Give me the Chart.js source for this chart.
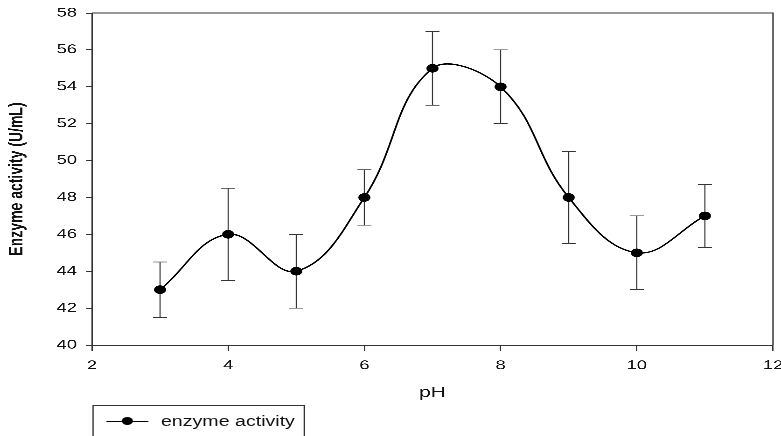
<!DOCTYPE html>
<html>
<head>
<meta charset="utf-8">
<script src="https://cdn.jsdelivr.net/npm/chart.js@4.4.1/dist/chart.umd.min.js"></script>
<style>
    html, body { margin: 0; padding: 0; background: #fff; }
    #page { width: 781px; height: 436px; overflow: hidden; position: relative; }
    /* the reference figure is stretched sideways, so draw narrow and widen */
    #wrap { position: absolute; left: 0; top: 0; width: 558px; height: 436px; transform: scaleX(1.3996); transform-origin: 0 0; }
    #legend {
        position: absolute; left: 66px; top: 405px; width: 152px; height: 40px;
        border: 1px solid #333; box-sizing: border-box;
        font-family: "Liberation Sans", Arial, sans-serif; font-size: 14px; color: #111;
    }
    #legend .line { position: absolute; left: 9px; top: 15px; width: 30px; border-top: 1.3px solid #000; }
    #legend .dot { position: absolute; left: 20px; top: 11px; width: 8.4px; height: 8.4px; border-radius: 50%; background: #000; }
    #legend .txt { position: absolute; left: 48px; top: 7px; }
</style>
</head>
<body>
<div id="page">
<div id="wrap">
    <canvas id="chart"></canvas>
    <div id="legend"><span class="line"></span><span class="dot"></span><span class="txt">enzyme activity</span></div>
</div>
</div>
<script>
// pH values and measured enzyme activity
const phValues = [3, 4, 5, 6, 7, 8, 9, 10, 11];
const activity = [43, 46, 44, 48, 55, 54, 48, 45, 47];
const errors = [1.5, 2.5, 2, 1.5, 2, 2, 2.5, 2, 1.7];

const xTicks = [2, 4, 6, 8, 10, 12];
const yTicks = [40, 42, 44, 46, 48, 50, 52, 54, 56, 58];

const font = '"Liberation Sans", Arial, sans-serif';

// Error bars + frame around the plot area
const errorBarPlugin = {
    id: 'errorBars',
    beforeDatasetsDraw(chart) {
        const { ctx, scales: { x, y }, chartArea } = chart;
        ctx.save();
        ctx.strokeStyle = '#333';
        ctx.lineWidth = 0.8;
        phValues.forEach((ph, i) => {
            const px = x.getPixelForValue(ph);
            const top = y.getPixelForValue(activity[i] + errors[i]);
            const bot = y.getPixelForValue(activity[i] - errors[i]);
            ctx.beginPath();
            ctx.moveTo(px, top);
            ctx.lineTo(px, bot);
            ctx.moveTo(px - 5, top);
            ctx.lineTo(px + 5, top);
            ctx.moveTo(px - 5, bot);
            ctx.lineTo(px + 5, bot);
            ctx.stroke();
        });
        // top and right frame lines
        ctx.lineWidth = 1;
        ctx.beginPath();
        ctx.moveTo(chartArea.left, chartArea.top);
        ctx.lineTo(chartArea.right, chartArea.top);
        ctx.lineTo(chartArea.right, chartArea.bottom);
        ctx.stroke();
        ctx.restore();
    }
};

const canvas = document.getElementById('chart');
canvas.style.width = '558px';
canvas.style.height = '436px';

new Chart(canvas, {
    type: 'scatter',
    data: {
        datasets: [{
            label: 'enzyme activity',
            data: phValues.map((ph, i) => ({ x: ph, y: activity[i] })),
            showLine: true,
            tension: 0.4,
            borderColor: '#000',
            borderWidth: 1.3,
            pointRadius: 4.3,
            pointBackgroundColor: '#000',
            pointBorderColor: '#000',
            pointBorderWidth: 0
        }]
    },
    options: {
        responsive: false,
        animation: false,
        devicePixelRatio: 3,
        layout: { padding: { top: 13, right: 5.7, left: 0, bottom: 0 } },
        plugins: {
            legend: { display: false },
            tooltip: { enabled: false }
        },
        scales: {
            x: {
                type: 'linear',
                min: 2,
                max: 12,
                afterBuildTicks: (axis) => { axis.ticks = xTicks.map(v => ({ value: v })); },
                afterFit: (axis) => { axis.height = 91; axis.paddingLeft = 0; axis.paddingRight = 0; },
                grid: { drawOnChartArea: false, drawTicks: true, tickLength: 6, color: '#333' },
                border: { display: true, color: '#333', width: 1 },
                ticks: { padding: 7, color: '#111', font: { family: font, size: 13 }, maxRotation: 0 },
                title: {
                    display: true, text: 'pH', color: '#111',
                    font: { family: font, size: 15 },
                    padding: { top: 0, bottom: 34 }
                }
            },
            y: {
                type: 'linear',
                min: 40,
                max: 58,
                afterBuildTicks: (axis) => { axis.ticks = yTicks.map(v => ({ value: v })); },
                afterFit: (axis) => { axis.width = 65.7; axis.paddingTop = 0; axis.paddingBottom = 0; },
                grid: { drawOnChartArea: false, drawTicks: true, tickLength: 4.3, color: '#333' },
                border: { display: true, color: '#333', width: 1 },
                ticks: { padding: 6.4, color: '#111', font: { family: font, size: 13 } },
                title: {
                    display: true, text: 'Enzyme activity (U/mL)', color: '#111',
                    font: { family: font, size: 14, weight: 'bold' },
                    padding: { top: 3.7, bottom: 0 }
                }
            }
        }
    },
    plugins: [errorBarPlugin]
});
</script>
</body>
</html>
